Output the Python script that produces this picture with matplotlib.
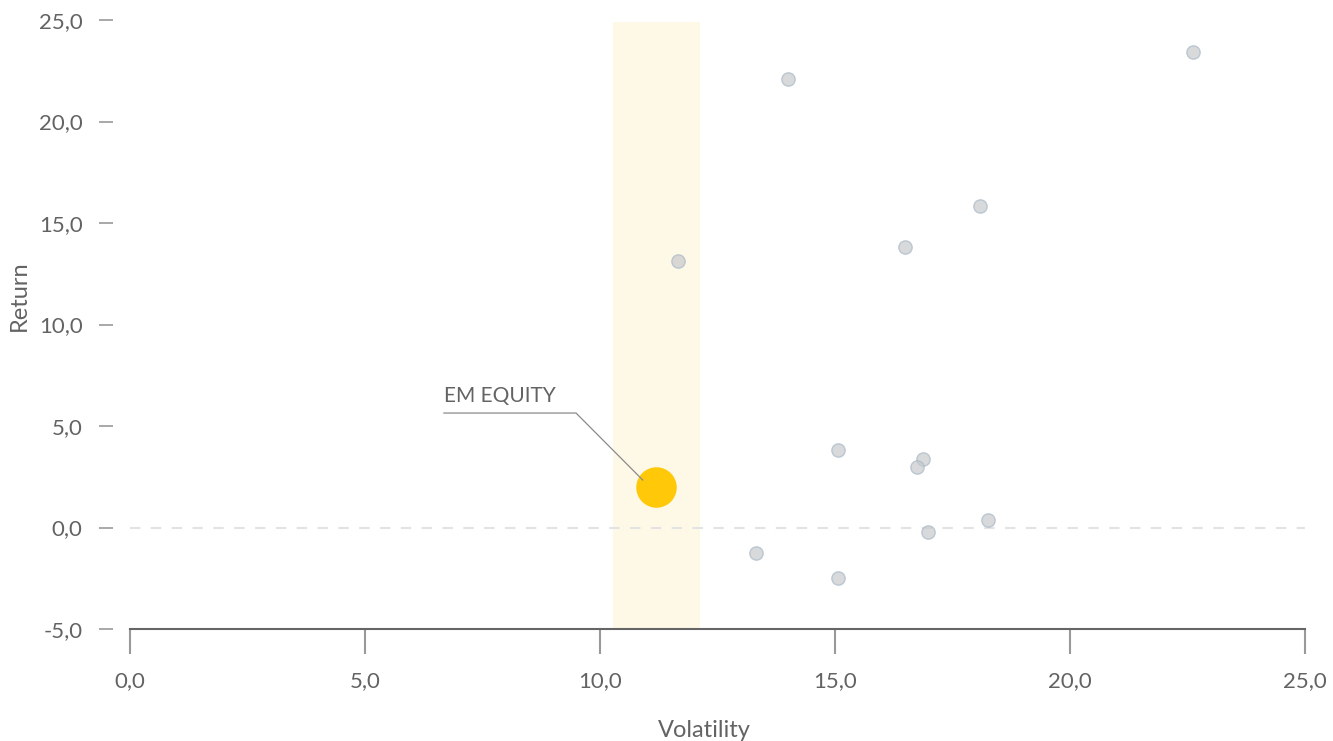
import matplotlib.pyplot as plt
from matplotlib.ticker import FuncFormatter

# data
volatility = [14.0, 22.62, 18.09, 16.49, 11.66, 15.06, 16.87, 16.74, 18.26, 16.98, 13.32, 15.06]
returns = [22.1, 23.4, 15.85, 13.8, 13.15, 3.8, 3.4, 3.0, 0.37, -0.22, -1.27, -2.5]
em_vol = [11.2]
em_ret = [2.0]
em_label = "EM EQUITY"
band = [10.28, 12.12]
x_ticks = [0, 5, 10, 15, 20, 25]
y_ticks = [-5, 0, 5, 10, 15, 20, 25]

plt.rcParams['font.family'] = ['Lato', 'DejaVu Sans']
text_col = '#636363'

fig = plt.figure(figsize=(13.33, 7.41), dpi=100)
ax = fig.add_axes([0.0975, 0.1511, 0.8815, 0.8219])

ax.axvspan(band[0], band[1], ymin=0, ymax=0.997, color='#fef8e7', lw=0, zorder=0)
ax.axhline(0, color='#e3e3e3', lw=1.5, ls=(0, (5, 5)), zorder=1)

ax.scatter(volatility, returns, s=92, color='#c8cacd', alpha=0.7,
           edgecolor='#a9b8c6', linewidth=1.0, zorder=3)
ax.scatter(em_vol, em_ret, s=850, color='#ffc90a', lw=0, zorder=4)

# callout
ax.plot([6.68, 9.49, 10.91], [5.64, 5.64, 2.34], color='#8a8a8a', lw=0.9, zorder=5)
ax.text(6.68, 6.0, em_label, fontsize=15, color=text_col, ha='left', va='bottom')

ax.set_xlim(0, 25)
ax.set_ylim(-5, 25)
ax.set_xticks(x_ticks)
ax.set_yticks(y_ticks)
fmt = FuncFormatter(lambda v, p: f"{v:.1f}".replace('.', ','))
ax.xaxis.set_major_formatter(fmt)
ax.yaxis.set_major_formatter(fmt)

for s in ['top', 'right']:
    ax.spines[s].set_visible(False)
ax.spines['left'].set_visible(False)
ax.spines['left'].set_position(('outward', 12))
ax.spines['bottom'].set_color('#666666')
ax.spines['bottom'].set_linewidth(1.5)

ax.tick_params(axis='x', direction='out', length=18, width=1.5, color='#999999',
               labelsize=16, labelcolor=text_col, pad=12)
ax.tick_params(axis='y', direction='out', length=10, width=1.2, color='#999999',
               labelsize=16, labelcolor=text_col, pad=12)

ax.set_xlabel('Volatility', fontsize=17, color=text_col)
ax.set_ylabel('Return', fontsize=17, color=text_col)
ax.xaxis.set_label_coords(0.489, -0.15)
ax.yaxis.set_label_coords(-0.085, 0.548)

fig.savefig('out.png', dpi=100)
